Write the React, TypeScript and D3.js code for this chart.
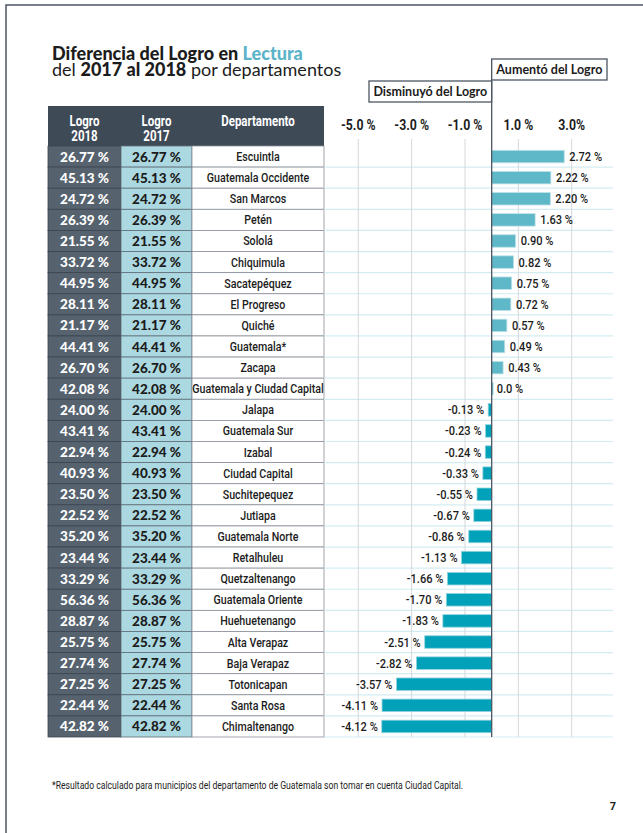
import React, { useEffect, useRef } from 'react';
import * as d3 from 'd3';

// Departments, top to bottom
const departamentos = [
  'Escuintla', 'Guatemala Occidente', 'San Marcos', 'Petén', 'Sololá', 'Chiquimula',
  'Sacatepéquez', 'El Progreso', 'Quiché', 'Guatemala*', 'Zacapa',
  'Guatemala y Ciudad Capital', 'Jalapa', 'Guatemala Sur', 'Izabal', 'Ciudad Capital',
  'Suchitepequez', 'Jutiapa', 'Guatemala Norte', 'Retalhuleu', 'Quetzaltenango',
  'Guatemala Oriente', 'Huehuetenango', 'Alta Verapaz', 'Baja Verapaz', 'Totonicapan',
  'Santa Rosa', 'Chimaltenango',
];

const logro2018 = [
  26.77, 45.13, 24.72, 26.39, 21.55, 33.72, 44.95, 28.11, 21.17, 44.41, 26.70,
  42.08, 24.00, 43.41, 22.94, 40.93, 23.50, 22.52, 35.20, 23.44, 33.29,
  56.36, 28.87, 25.75, 27.74, 27.25, 22.44, 42.82,
];

const logro2017 = [
  26.77, 45.13, 24.72, 26.39, 21.55, 33.72, 44.95, 28.11, 21.17, 44.41, 26.70,
  42.08, 24.00, 43.41, 22.94, 40.93, 23.50, 22.52, 35.20, 23.44, 33.29,
  56.36, 28.87, 25.75, 27.74, 27.25, 22.44, 42.82,
];

const diferencia = [
  2.72, 2.22, 2.20, 1.63, 0.90, 0.82, 0.75, 0.72, 0.57, 0.49, 0.43,
  0.0, -0.13, -0.23, -0.24, -0.33, -0.55, -0.67, -0.86, -1.13, -1.66,
  -1.70, -1.83, -2.51, -2.82, -3.57, -4.11, -4.12,
];

const tickValues = [-5, -3, -1, 1, 3];
const tickLabels = ['-5.0 %', '-3.0 %', '-1.0 %', '1.0 %', '3.0%'];

const App = () => {
  const ref = useRef<SVGSVGElement | null>(null);

  useEffect(() => {
    const svg = d3.select(ref.current);
    svg.selectAll('*').remove();

    const sans = 'Lato, "Open Sans", sans-serif';
    // no condensed face installed, so squeeze Roboto horizontally
    const narrow = 'Roboto, "Noto Sans", sans-serif';
    const squeeze = 0.82;
    const dark = '#3f4a57';

    const data = departamentos.map((d, i) => ({
      dep: d,
      l18: logro2018[i],
      l17: logro2017[i],
      dif: diferencia[i],
    }));

    // Page frame (top and left edge)
    svg.append('path')
      .attr('d', 'M6,833 V5 H643')
      .attr('fill', 'none')
      .attr('stroke', '#4c5662')
      .attr('stroke-width', 1.5);

    // Title, written as consecutive pieces placed after each other
    const writeLine = (parts: { s: string; bold: boolean; color: string }[], ty: number) => {
      let cx = 52;
      parts.forEach(p => {
        const t = svg.append('text')
          .attr('x', cx).attr('y', ty)
          .style('font-family', sans).style('font-size', '18px')
          .style('font-weight', p.bold ? 900 : 400)
          .style('white-space', 'pre')
          .attr('fill', p.color)
          .text(p.s);
        cx += (t.node() as SVGTextElement).getComputedTextLength();
      });
    };
    writeLine([
      { s: 'Diferencia del Logro en\u00a0', bold: true, color: '#1c1c1c' },
      { s: 'Lectura', bold: true, color: '#5ab4c9' },
    ], 60);
    writeLine([
      { s: 'del\u00a0', bold: false, color: '#1c1c1c' },
      { s: '2017 al 2018', bold: true, color: '#1c1c1c' },
      { s: '\u00a0por departamentos', bold: false, color: '#1c1c1c' },
    ], 76);

    // Layout
    const top = 146;
    const bottom = 737;
    const cols = [48, 121, 192, 324];
    const chartRight = 613;

    const y = d3.scaleBand()
      .domain(departamentos)
      .range([top, bottom]);

    const x = d3.scaleLinear()
      .domain([-5, 3])
      .range([358.3, 571.7]);

    // Table header
    svg.append('rect')
      .attr('x', cols[0]).attr('y', 106)
      .attr('width', cols[3] - cols[0]).attr('height', top - 106)
      .attr('fill', dark);

    const headers = [['Logro', '2018'], ['Logro', '2017'], ['Departamento']];
    headers.forEach((lines, i) => {
      const cx = (cols[i] + cols[i + 1]) / 2;
      lines.forEach((s, j) => {
        const ty = 126 + j * 15;
        svg.append('text')
          .attr('transform', `translate(${cx},${ty}) scale(${squeeze},1)`)
          .attr('text-anchor', 'middle')
          .style('font-family', narrow).style('font-size', '14px')
          .style('font-weight', 700).attr('fill', 'white')
          .text(s);
      });
    });

    // Table cells
    const row = svg.append('g').selectAll('g.row')
      .data(data)
      .enter()
      .append('g')
      .attr('class', 'row')
      .attr('transform', d => `translate(0, ${y(d.dep)})`);

    row.append('rect')
      .attr('x', cols[0]).attr('width', cols[1] - cols[0])
      .attr('height', y.bandwidth())
      .attr('fill', '#56636f').attr('stroke', '#3a4450').attr('stroke-width', 0.8);
    row.append('rect')
      .attr('x', cols[1]).attr('width', cols[2] - cols[1])
      .attr('height', y.bandwidth())
      .attr('fill', '#acd9e1').attr('stroke', '#5f6d79').attr('stroke-width', 0.8);
    row.append('rect')
      .attr('x', cols[2]).attr('width', cols[3] - cols[2])
      .attr('height', y.bandwidth())
      .attr('fill', 'white').attr('stroke', '#8a9099').attr('stroke-width', 0.8);

    row.append('text')
      .attr('x', (cols[0] + cols[1]) / 2).attr('y', y.bandwidth() / 2 + 5)
      .attr('text-anchor', 'middle')
      .style('font-family', sans).style('font-size', '13.5px').style('font-weight', 900)
      .attr('fill', 'white')
      .text(d => `${d.l18.toFixed(2)} %`);
    row.append('text')
      .attr('x', (cols[1] + cols[2]) / 2).attr('y', y.bandwidth() / 2 + 5)
      .attr('text-anchor', 'middle')
      .style('font-family', sans).style('font-size', '13.5px').style('font-weight', 900)
      .attr('fill', '#1c1c1c')
      .text(d => `${d.l17.toFixed(2)} %`);
    row.append('text')
      .attr('transform', `translate(${(cols[2] + cols[3]) / 2},${y.bandwidth() / 2 + 4.5}) scale(${squeeze},1)`)
      .attr('text-anchor', 'middle')
      .style('font-family', narrow).style('font-size', '13px').style('font-weight', 500)
      .attr('fill', '#1c1c1c')
      .text(d => d.dep);

    // Chart row separators
    const edges = departamentos.map(d => y(d) as number).concat([bottom]);
    svg.append('g').selectAll('line')
      .data(edges.slice(1))
      .enter()
      .append('line')
      .attr('x1', cols[3]).attr('x2', chartRight)
      .attr('y1', d => d).attr('y2', d => d)
      .attr('stroke', '#d3ecf1').attr('stroke-width', 1.2);

    // Vertical gridlines
    svg.append('g').selectAll('line')
      .data(tickValues)
      .enter()
      .append('line')
      .attr('x1', d => x(d)).attr('x2', d => x(d))
      .attr('y1', 139).attr('y2', bottom)
      .attr('stroke', '#d4d7dc').attr('stroke-width', 1);

    // Tick labels
    svg.append('g').selectAll('text')
      .data(tickValues)
      .enter()
      .append('text')
      .attr('transform', d => `translate(${x(d)},130) scale(${squeeze},1)`)
      .attr('text-anchor', 'middle')
      .style('font-family', narrow).style('font-size', '15px').style('font-weight', 700)
      .attr('fill', '#1c1c1c')
      .text((d, i) => tickLabels[i]);

    // Bars
    const barH = 12.5;
    svg.append('g').selectAll('rect')
      .data(data)
      .enter()
      .append('rect')
      .attr('x', d => x(Math.min(0, d.dif)))
      .attr('y', d => (y(d.dep) as number) + (y.bandwidth() - barH) / 2)
      .attr('width', d => Math.max(1.5, Math.abs(x(d.dif) - x(0))))
      .attr('height', barH)
      .attr('fill', d => (d.dif >= 0 ? '#5fb8c7' : '#00a1b9'))
      .attr('stroke', d => (d.dif >= 0 ? '#bfe3ea' : '#8fd3de'))
      .attr('stroke-width', 0.8);

    // Value labels
    svg.append('g').selectAll('text')
      .data(data)
      .enter()
      .append('text')
      .attr('transform', d => {
        const tx = d.dif >= 0 ? x(d.dif) + 5 : x(d.dif) - 4;
        const ty = (y(d.dep) as number) + y.bandwidth() / 2 + 4.5;
        return `translate(${tx},${ty}) scale(${squeeze},1)`;
      })
      .attr('text-anchor', d => (d.dif >= 0 ? 'start' : 'end'))
      .style('font-family', narrow).style('font-size', '13.5px').style('font-weight', 500)
      .attr('fill', '#1c1c1c')
      .text(d => (d.dif === 0 ? '0.0 %' : `${d.dif.toFixed(2)} %`));

    // Zero line
    svg.append('line')
      .attr('x1', x(0)).attr('x2', x(0))
      .attr('y1', 59).attr('y2', bottom)
      .attr('stroke', '#4c5662').attr('stroke-width', 1.3);

    // Legend boxes
    const boxes = [
      { label: 'Aumentó del Logro', x0: x(0), x1: 607, y0: 59, y1: 80 },
      { label: 'Disminuyó del Logro', x0: 369, x1: x(0), y0: 81, y1: 102 },
    ];
    boxes.forEach(b => {
      svg.append('rect')
        .attr('x', b.x0).attr('y', b.y0)
        .attr('width', b.x1 - b.x0).attr('height', b.y1 - b.y0)
        .attr('fill', 'white').attr('stroke', '#4c5662').attr('stroke-width', 1.3);
      svg.append('text')
        .attr('x', (b.x0 + b.x1) / 2).attr('y', b.y1 - 6.5)
        .attr('text-anchor', 'middle')
        .style('font-family', sans).style('font-size', '12.5px').style('font-weight', 700)
        .attr('fill', '#1c1c1c')
        .text(b.label);
    });

    // Footnote and page number
    svg.append('text')
      .attr('x', 52).attr('y', 789)
      .attr('textLength', 411).attr('lengthAdjust', 'spacingAndGlyphs')
      .style('font-family', narrow).style('font-size', '11px')
      .attr('fill', '#1c1c1c')
      .text('*Resultado calculado para municipios del departamento de Guatemala son tomar en cuenta Ciudad Capital.');

    svg.append('text')
      .attr('x', 613).attr('y', 810)
      .attr('text-anchor', 'middle')
      .style('font-family', narrow).style('font-size', '11px').style('font-weight', 700)
      .attr('fill', '#1c1c1c')
      .text('7');
  }, []);

  return (
    <svg
      ref={ref}
      width={643}
      height={833}
      style={{ position: 'absolute', left: 0, top: 0, background: 'white' }}
    />
  );
};

export default App;
